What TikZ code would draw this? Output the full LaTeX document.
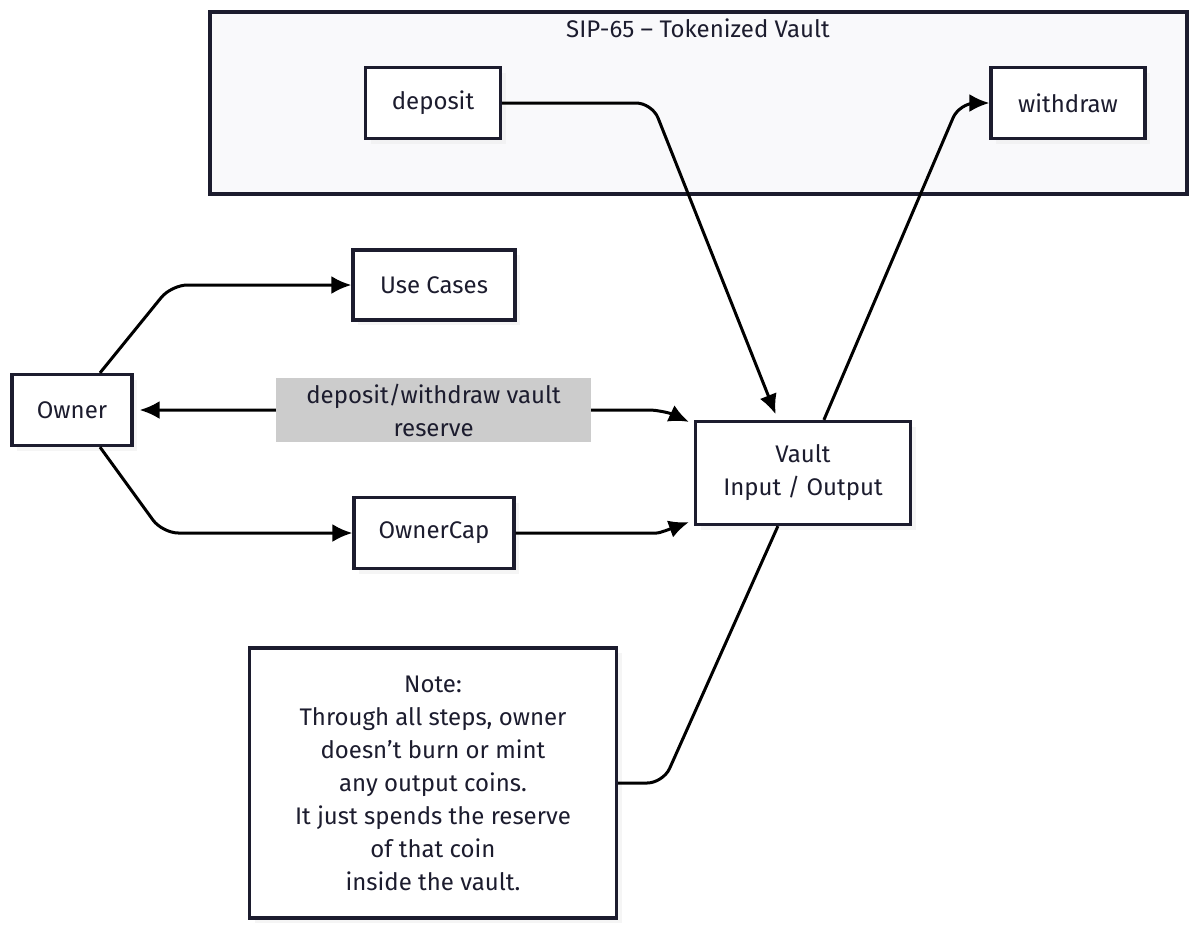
\documentclass[tikz,border=0pt]{standalone}
\usepackage{fontspec}
\setmainfont{Fira Sans}
\usetikzlibrary{arrows.meta, shadows, calc}
\definecolor{ink}{RGB}{28,28,46}
\definecolor{groupbg}{RGB}{249,249,251}
\definecolor{edgelbl}{RGB}{204,204,204}

\begin{document}
\begin{tikzpicture}[x=0.5pt,y=-0.5pt,
  font=\fontsize{12}{16.5}\selectfont,
  >={Latex[length=10pt,width=9pt]},
  box/.style={draw=ink, line width=1.6pt, fill=white, align=center, text=ink,
    inner sep=0pt, drop shadow={shadow xshift=2.5pt, shadow yshift=-2.5pt, fill=black!7}},
  flow/.style={line width=1.5pt, rounded corners=8pt},
  lbl/.style={sharp corners, fill=edgelbl, text=ink, align=center, minimum width=157.5pt, minimum height=32pt, inner sep=0pt}]
  \useasboundingbox (0,0) rectangle (1200,934);
  \fill[white] (0,0) rectangle (1200,934);
  % group box
  \draw[ink, line width=1.6pt, fill=groupbg] (210,12) rectangle (1187,194);
  \node[text=ink] (grouptitle) at (698,28) {SIP-65 – Tokenized Vault};
  % nodes
  \node[box, minimum width=67.5pt, minimum height=35.5pt] (deposit) at (433,103) {deposit};
  \node[box, minimum width=77pt, minimum height=35.5pt] (withdraw) at (1068,103) {withdraw};
  \node[box, minimum width=81pt, minimum height=35pt] (usecases) at (434,285) {Use Cases};
  \node[box, minimum width=60pt, minimum height=35.5pt] (owner) at (72,410) {Owner};
  \node[box, minimum width=107.5pt, minimum height=51.5pt] (vault) at (803,473) {Vault\\Input / Output};
  \node[box, minimum width=80pt, minimum height=35.5pt] (ownercap) at (434,533) {OwnerCap};
  \node[box, minimum width=183.5pt, minimum height=135pt] (note) at (433,783)
    {Note:\\Through all steps, owner\\doesn’t burn or mint\\any output coins.\\It just spends the reserve\\of that coin\\inside the vault.};
  % connectors
  \draw[flow, ->, shorten >=3pt] (deposit.east) -- ($(deposit.east)+(150,0)$) -- ($(vault.north west)+(84,0)$);
  \draw[flow, ->] ($(vault.north west)+(130,0)$) -- ($(withdraw.west)+(-30,0)$) -- (withdraw.west);
  \draw[flow, ->] ($(owner.north)+(28,0)$) -- ($(usecases.west)+(-180,0)$) -- (usecases.west);
  \draw[flow, <->, shorten <=3pt] (owner.east) -- node[lbl, pos=0.6] (lblreserve) {deposit/withdraw vault\\reserve}
    ($(owner.east)+(500,0)$) to[out=0, in=155] ($(vault.north west)+(-5,2)$);
  \draw[flow, ->] ($(owner.south)+(28,0)$) -- ($(ownercap.west)+(-190,0)$) -- (ownercap.west);
  \draw[flow, ->] (ownercap.east) -- ($(ownercap.east)+(125,0)$) to[out=0, in=200] ($(vault.south west)+(-5,-4)$);
  \draw[flow] ($(vault.south west)+(84,0)$) -- ($(note.east)+(45,0)$) -- (note.east);
\end{tikzpicture}
\end{document}
